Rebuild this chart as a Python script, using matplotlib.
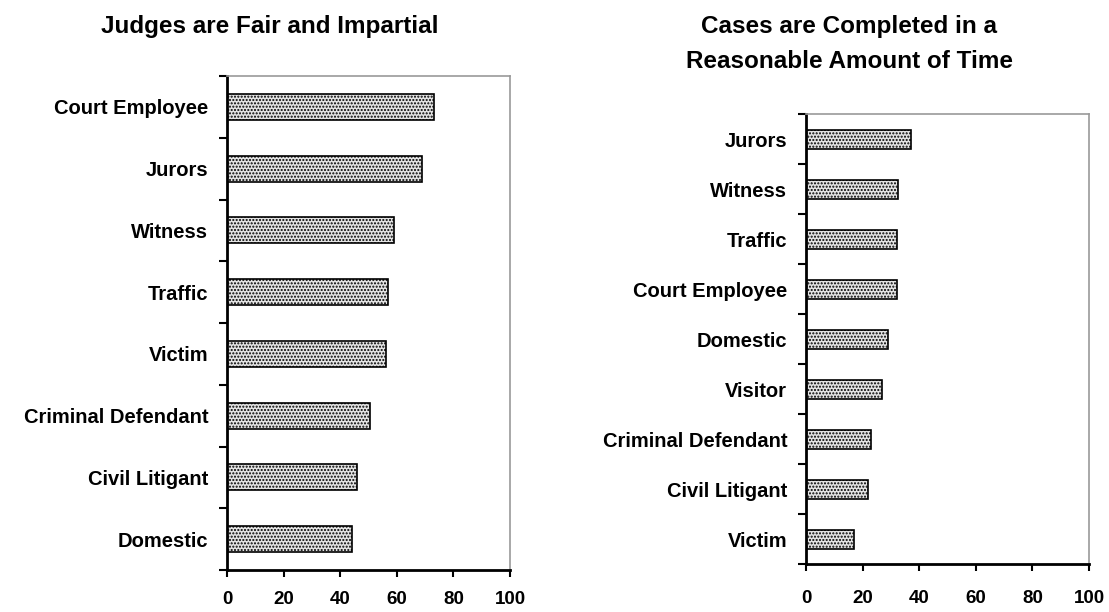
import numpy as np
import matplotlib
matplotlib.use('agg')
import matplotlib.pyplot as plt

plt.rcParams['font.family'] = ['Liberation Sans', 'DejaVu Sans']
plt.rcParams['font.weight'] = 'bold'
plt.rcParams['hatch.linewidth'] = 1.0
plt.rcParams['hatch.color'] = '#333333'

# left panel: Judges are Fair and Impartial
fair_labels = ['Court Employee', 'Jurors', 'Witness', 'Traffic', 'Victim',
               'Criminal Defendant', 'Civil Litigant', 'Domestic']
fair_values = [73, 69, 59, 57, 56, 50.5, 46, 44]

# right panel: Cases are Completed in a Reasonable Amount of Time
time_labels = ['Jurors', 'Witness', 'Traffic', 'Court Employee', 'Domestic',
               'Visitor', 'Criminal Defendant', 'Civil Litigant', 'Victim']
time_values = [37, 32.5, 32, 32, 29, 27, 23, 22, 17]

xticks = [0, 20, 40, 60, 80, 100]

fig = plt.figure(figsize=(11.09, 6.12), dpi=100)
ax1 = fig.add_axes([0.2047, 0.0686, 0.2552, 0.8072])
ax2 = fig.add_axes([0.7268, 0.0784, 0.2552, 0.7353])


def draw(ax, labels, values, height, xpad):
    n = len(labels)
    y = np.arange(n)[::-1]
    ax.barh(y, values, height=height, color='#e4e4e4', edgecolor='black',
            linewidth=1.2, hatch='.....', zorder=2)
    ax.set_xlim(0, 100)
    ax.set_ylim(-0.5, n - 0.5)
    ax.set_xticks(xticks)
    ax.set_xticklabels([str(t) for t in xticks], fontsize=13.5, fontweight='bold')
    ax.set_yticks(y)
    ax.set_yticklabels(labels, fontsize=14.5, fontweight='bold')
    ax.set_yticks(np.arange(n + 1) - 0.5, minor=True)
    ax.tick_params(axis='y', which='major', length=0, pad=13.5)
    ax.tick_params(axis='y', which='minor', length=6, width=1.5, direction='out')
    ax.tick_params(axis='x', length=5, width=1.5, direction='out', pad=xpad)
    for s in ['left', 'bottom']:
        ax.spines[s].set_linewidth(2)
        ax.spines[s].set_color('black')
    for s in ['top', 'right']:
        ax.spines[s].set_linewidth(1.2)
        ax.spines[s].set_color('#999999')


draw(ax1, fair_labels, fair_values, 0.42, 10)
draw(ax2, time_labels, time_values, 0.38, 14)

fig.text(0.243, 0.956, 'Judges are Fair and Impartial', ha='center', va='center',
         fontsize=17.5, fontweight='bold')
fig.text(0.766, 0.928, 'Cases are Completed in a\nReasonable Amount of Time',
         ha='center', va='center', fontsize=17.5, fontweight='bold', linespacing=1.7)

plt.savefig('out.png', dpi=100)
